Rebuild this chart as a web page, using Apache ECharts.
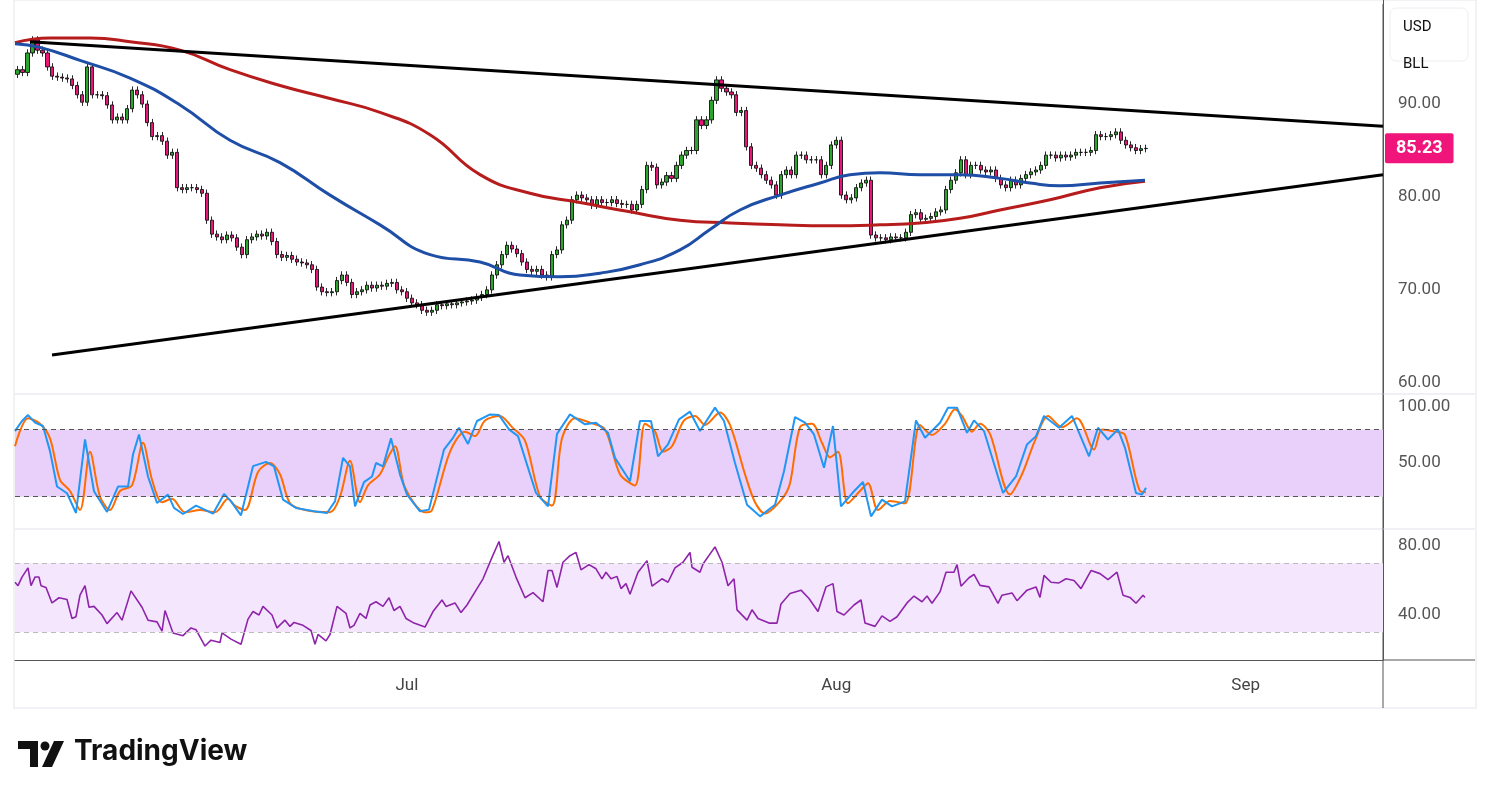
<!DOCTYPE html>
<html><head><meta charset="utf-8">
<script src="https://cdn.jsdelivr.net/npm/echarts@6/dist/echarts.min.js"></script>
<style>html,body{margin:0;padding:0;background:#fff}#c{width:1491px;height:799px}</style>
</head><body><div id="c"></div>
<script>
// closing prices, one per bar
const closes = [93.7,93.4,95.5,96.9,95.8,95.5,94,93,92.9,92.8,92.7,92,91,90.2,94,91,91,90.9,89.9,88.3,
88.6,88.3,89.5,91.5,91,90,88,86.5,86.6,86,84.5,84.8,81,80.8,81,81,80.8,80.4,77.5,76,
75.7,75.4,75.9,75.6,74.6,73.8,75.4,75.7,76,75.8,76.2,75.2,73.8,73.5,73.7,73.3,73,72.9,72.7,72.2,
70.3,69.8,69.7,69.8,71,71.6,70.8,69.5,69.8,70,70.5,70.2,70.5,70.4,70.7,70.8,70,69.8,69.1,68.6,
68.4,67.8,67.6,67.8,68.4,68.3,68.5,68.4,68.6,68.7,68.8,68.9,69.2,69.5,70,71.6,72.7,73.8,74.8,74.4,
73.9,73,72.2,72,72.2,71.6,71.4,73.8,74.3,77,77.5,79.7,80.2,79.9,79.7,79.1,79.7,79.4,79.4,79.7,
79.3,79.2,79.2,78.6,79.2,80.8,83.4,83.2,81.3,81.6,82.3,82,83.4,84.5,85,85,88.3,87.7,88.3,90.4,
92.6,91.7,91.3,91,89.1,89.3,85.4,83.4,83.1,82.4,81.8,81.3,80.2,82.4,82.9,82.4,84.5,84.5,84,84,
84,82.4,83.4,85.6,86.1,80.2,79.7,79.9,81,81.5,81.8,75.9,75.6,75.6,75.4,75.7,75.6,75.6,76.2,78.1,
78.3,77.6,77.7,77.9,78.4,78.6,80.8,81.8,82.6,84,82.4,83.4,83.4,82.9,82.7,82.9,82,81.3,81,81.8,
81.3,82,82.4,82.7,82.9,83.4,84.5,84.5,84.2,84.5,84.3,84.5,84.8,84.8,84.8,85,86.7,86.5,86.5,86.7,
87,86.1,85.6,85.3,85,85.2,85.23];
const firstOpen = 93.2;
const totalSlots = 274;
const monthLabels = {78:'Jul',164:'Aug',246:'Sep'};
const priceTicks = [60,70,80,90];
const stochTicks = [50,100];
const rsiTicks = [40,80];
// [time position, value]
const maFast = [[15,96.5],[40,96.1],[80,94.7],[130,92.8],[180,89.9],[230,86.1],[280,83.7],[330,80.2],[380,77],[430,73.8],[480,73],[520,71.6],[560,71.4],[600,71.8],[640,72.7],[680,74.3],[710,76.5],[740,78.6],[780,80.2],[820,81.5],[850,82.4],[880,82.6],[920,82.4],[960,82.4],[1000,82],[1030,81.5],[1060,81.2],[1100,81.5],[1145,81.8]];
const maSlow = [[15,96.6],[50,97.1],[90,97.1],[130,96.7],[180,95.8],[230,93.7],[280,92],[330,90.6],[380,89.1],[430,86.7],[480,82.4],[530,80.4],[580,79.4],[630,78.4],[680,77.5],[730,77.2],[780,77],[830,76.9],[880,77],[920,77.2],[960,77.7],[1000,78.6],[1050,79.7],[1100,81],[1145,81.7]];
const upperTrend = [[30,96.7],[1383,87.6]];
const lowerTrend = [[52,63],[1383,82.4]];
const stochK = [[15,78.5],[17,78.5],[22,87.5],[28,92.8],[35,86],[43,83],[50,60.6],[57,29],[67,23],[76,5.4],[85,71],[94,24.8],[107,6.3],[118,29],[128,29],[133,57.6],[139,75.5],[148,38],[157,14.3],[168,21.8],[174,9.9],[183,4.5],[196,12],[213,4.8],[224,22.4],[231,15.8],[241,3.3],[253,47.2],[266,51],[274,47],[283,17.3],[296,9.9],[314,6.9],[327,5.4],[335,15.8],[343,54.6],[350,47],[355,11.3],[364,33],[372,38],[376,50],[383,47],[391,72],[400,39.7],[407,21.8],[420,6.9],[429,8.4],[444,62],[453,72.5],[459,81.5],[468,67],[477,87.5],[490,93.4],[499,92.8],[509,80],[518,74],[536,23.3],[548,11.3],[557,76],[570,93.4],[585,84.5],[596,86],[608,77],[615,54.6],[630,33.7],[640,87.5],[651,87.5],[658,56],[668,66.6],[679,89],[690,95.8],[700,78.5],[715,99.4],[724,87.5],[735,50],[747,12.8],[760,2.4],[775,12.8],[784,42.7],[795,91],[805,86],[814,75.5],[824,45.7],[833,83],[841,11.3],[854,24.8],[863,33],[871,2.4],[882,17.3],[892,11.3],[905,15.8],[916,88],[925,72.5],[940,86],[948,99.4],[957,99.4],[967,77],[974,88],[984,78.5],[1003,23.3],[1016,38],[1027,66.6],[1036,74],[1044,92],[1059,81.5],[1072,92],[1089,56],[1098,81.5],[1108,71],[1118,80],[1125,63.6],[1136,23.3],[1142,21.8],[1146,28]];
const stochD = [[15,65],[28,90],[40,85],[50,72],[60,35],[70,25],[80,8],[90,60],[100,20],[110,8],[120,25],[132,30],[143,68],[152,35],[162,15],[172,18],[185,6],[200,8],[215,6],[228,18],[235,12],[245,8],[258,42],[270,50],[280,40],[290,14],[305,8],[330,6],[340,20],[350,52],[360,15],[368,30],[380,40],[388,55],[395,65],[405,28],[425,6],[432,8],[450,60],[465,78],[475,74],[485,88],[500,92],[512,82],[525,70],[540,20],[552,12],[562,72],[575,90],[590,86],[605,80],[620,40],[635,30],[645,85],[655,78],[663,60],[672,65],[684,88],[695,92],[705,84],[720,95],[730,84],[745,40],[755,15],[765,5],[782,18],[790,32],[800,82],[812,85],[822,68],[830,55],[838,60],[848,14],[860,25],[868,32],[878,8],[890,16],[905,14],[920,84],[932,75],[945,85],[955,98],[962,92],[972,78],[980,85],[990,76],[1010,22],[1022,40],[1035,70],[1048,92],[1062,82],[1077,90],[1094,62],[1102,80],[1115,78],[1125,75],[1140,25],[1146,24]];
const rsi = [[15,59],[18,57],[22,62],[28,67.3],[31,57],[35,62],[39,62],[41,57],[46,56],[52,47],[59,50],[67,49],[72,38],[76,39],[80,51.5],[85,57],[89,44.5],[94,45],[102,40],[107,35],[117,41.4],[122,37],[131,54],[142,44.5],[148,37],[157,36],[162,30.6],[165,42.6],[173,29.6],[183,28],[191,32.5],[196,31.5],[205,22],[211,25.4],[220,24],[222,29.6],[231,26],[241,23],[248,37.6],[253,42],[259,40],[263,45],[272,40],[277,32.5],[285,37],[290,33.4],[294,35.7],[303,34],[311,31],[315,23],[318,28.7],[326,25],[330,28.7],[337,45],[346,41],[350,32.5],[354,34],[360,41],[366,38],[370,45.8],[376,47.7],[383,45],[389,50],[394,42.6],[400,45],[406,38],[414,35.3],[425,33],[433,42],[442,48.7],[446,45],[455,47],[461,41.4],[467,45.8],[475,53.4],[483,61],[492,73.4],[499,82.6],[504,70.6],[508,74.4],[516,62],[525,50],[533,53],[543,47.7],[548,65.8],[552,65.8],[557,56],[563,70.6],[570,74.4],[576,76.3],[581,66.2],[589,69.2],[596,66.8],[602,61],[606,64.8],[611,61],[617,62.4],[621,55.3],[626,58.2],[630,52],[638,64.8],[647,71.5],[652,56.7],[662,61],[668,59],[675,67.3],[683,70.6],[690,76.3],[692,67.7],[700,64.8],[703,69.6],[715,79.5],[722,70.6],[728,57],[734,61],[737,43],[747,37],[752,43],[758,38],[769,35.3],[777,35.3],[781,46.4],[790,52.5],[801,54.4],[809,49.6],[818,42],[826,56.3],[833,58.2],[837,42],[844,40],[854,45.8],[861,48.7],[865,35.3],[875,33.4],[882,39.5],[890,36.3],[897,39],[907,47],[914,51],[922,47.7],[927,51],[932,46.8],[940,53.4],[946,64.8],[954,64.8],[957,69.2],[961,56.7],[969,61.6],[974,63.5],[980,57.2],[989,56.3],[998,46.8],[1002,51.5],[1012,52.8],[1017,48.3],[1027,54.4],[1036,56.3],[1040,50.2],[1044,63],[1051,59],[1059,58.6],[1066,61],[1074,60],[1081,55.3],[1091,65.8],[1100,64],[1108,60.5],[1117,64.8],[1123,51.5],[1130,50.2],[1136,46.8],[1143,51.5],[1145,50.2]];

const cats = [];
for (let i=0;i<totalSlots;i++) cats.push(monthLabels[i]||'');
const ohlc = closes.map((c,i)=>{const o=i?closes[i-1]:firstOpen;return [o,c,Math.min(o,c)-0.4,Math.max(o,c)+0.4];});
const last = closes[closes.length-1];

const chart = echarts.init(document.getElementById('c'));
const lab = {color:'#555',fontSize:17,fontFamily:'Roboto, sans-serif',margin:15};
const yBase = (gi,min,max,ticks)=>({type:'value',gridIndex:gi,position:'right',min,max,
  axisLine:{show:true,lineStyle:{color:'#555'}},axisTick:{show:false},splitLine:{show:false},
  axisLabel:Object.assign({customValues:ticks,formatter:v=>v.toFixed(2)},lab)});
const xVal = gi=>({type:'value',gridIndex:gi,min:15,max:1383,show:false});
const dash = (v,c)=>({yAxis:v,lineStyle:{color:c,type:[5,4],width:1}});
chart.setOption({
  animation:false,
  grid:[{left:15,right:108,top:0,height:393},{left:15,right:108,top:395,height:133},{left:15,right:108,top:530,height:130}],
  xAxis:[
    {type:'category',gridIndex:0,data:cats,show:false,boundaryGap:true},
    {type:'category',gridIndex:2,data:cats,boundaryGap:true,axisLine:{show:true,lineStyle:{color:'#555'}},axisTick:{show:false},
      axisLabel:{interval:0,color:'#444',fontSize:17,margin:17,fontFamily:'Roboto, sans-serif'},splitLine:{show:false}},
    xVal(0),xVal(1),xVal(2)
  ],
  yAxis:[yBase(0,58.9,101.2,priceTicks),yBase(1,-8,110.7,stochTicks),yBase(2,13.9,89.3,rsiTicks)],
  series:[
    {type:'line',xAxisIndex:2,yAxisIndex:0,data:maSlow,smooth:true,symbol:'none',lineStyle:{color:'#b71c1c',width:3}},
    {type:'line',xAxisIndex:2,yAxisIndex:0,data:maFast,smooth:true,symbol:'none',lineStyle:{color:'#1e4ea6',width:3}},
    {type:'candlestick',xAxisIndex:0,yAxisIndex:0,data:ohlc,barWidth:3.6,
      itemStyle:{color:'#2ba52b',color0:'#e9157a',borderColor:'#111',borderColor0:'#111',borderWidth:0.9},
      markLine:{symbol:'none',silent:true,animation:false,data:[{yAxis:last}],lineStyle:{width:1,color:'rgba(0,0,0,0)',type:'solid'},
        label:{show:true,position:'end',distance:2,formatter:()=>last.toFixed(2),backgroundColor:'#f0157a',color:'#fff',fontSize:18,fontWeight:'bold',padding:[7,11,5,11],borderRadius:2,fontFamily:'Roboto, sans-serif'}}},
    {type:'line',xAxisIndex:2,yAxisIndex:0,data:upperTrend,symbol:'none',lineStyle:{color:'#000',width:3}},
    {type:'line',xAxisIndex:2,yAxisIndex:0,data:lowerTrend,symbol:'none',lineStyle:{color:'#000',width:3}},
    {type:'line',xAxisIndex:3,yAxisIndex:1,data:stochD,smooth:0.3,symbol:'none',lineStyle:{color:'#ff6d00',width:2},
      markArea:{silent:true,itemStyle:{color:'#e9d0fb'},data:[[{yAxis:20},{yAxis:80}]]},
      markLine:{symbol:'none',silent:true,label:{show:false},data:[dash(20,'#555'),dash(80,'#555')]}},
    {type:'line',xAxisIndex:3,yAxisIndex:1,data:stochK,symbol:'none',lineStyle:{color:'#2196f3',width:2}},
    {type:'line',xAxisIndex:4,yAxisIndex:2,data:rsi,symbol:'none',lineStyle:{color:'#8e24aa',width:1.6},
      markArea:{silent:true,itemStyle:{color:'#f4e6fd'},data:[[{yAxis:30},{yAxis:70}]]},
      markLine:{symbol:'none',silent:true,label:{show:false},data:[dash(30,'#bbb'),dash(70,'#bbb')]}}
  ],
  graphic:[
    {type:'rect',shape:{x:14,y:0,width:1462,height:708},style:{fill:'none',stroke:'#eceef2',lineWidth:1.5},silent:true},
    {type:'line',shape:{x1:15,y1:394,x2:1383,y2:394},style:{stroke:'#e0e3eb',lineWidth:1}},
    {type:'line',shape:{x1:15,y1:529,x2:1383,y2:529},style:{stroke:'#e0e3eb',lineWidth:1}},
    {type:'line',shape:{x1:1383,y1:394,x2:1475,y2:394},style:{stroke:'#e0e3eb',lineWidth:1}},
    {type:'line',shape:{x1:1383,y1:529,x2:1475,y2:529},style:{stroke:'#e0e3eb',lineWidth:1}},
    {type:'line',shape:{x1:1383,y1:660,x2:1475,y2:660},style:{stroke:'#555',lineWidth:1}},
    {type:'line',shape:{x1:1383,y1:4,x2:1383,y2:708},style:{stroke:'#555',lineWidth:1}},
    {type:'rect',shape:{x:1390,y:8,width:78,height:53,r:6},style:{fill:'#fff',stroke:'#eceef2'}},
    {type:'text',x:1403,y:20,style:{text:'USD',fontSize:15,fill:'#111',fontFamily:'Roboto, sans-serif'}},
    {type:'text',x:1403,y:57,style:{text:'BLL',fontSize:15,fill:'#111',fontFamily:'Roboto, sans-serif'}},
    {type:'polygon',shape:{points:[[18,741],[38,741],[38,767],[30,767],[30,749],[18,749]]},style:{fill:'#111'}},
    {type:'circle',shape:{cx:45,cy:746,r:4.5},style:{fill:'#111'}},
    {type:'polygon',shape:{points:[[54,741],[64,741],[52,767],[42,767]]},style:{fill:'#111'}},
    {type:'text',x:74,y:738,style:{text:'TradingView',fontSize:28,fontWeight:'bold',fill:'#111',fontFamily:'Inter, Roboto, sans-serif'}}
  ]
});
</script></body></html>
